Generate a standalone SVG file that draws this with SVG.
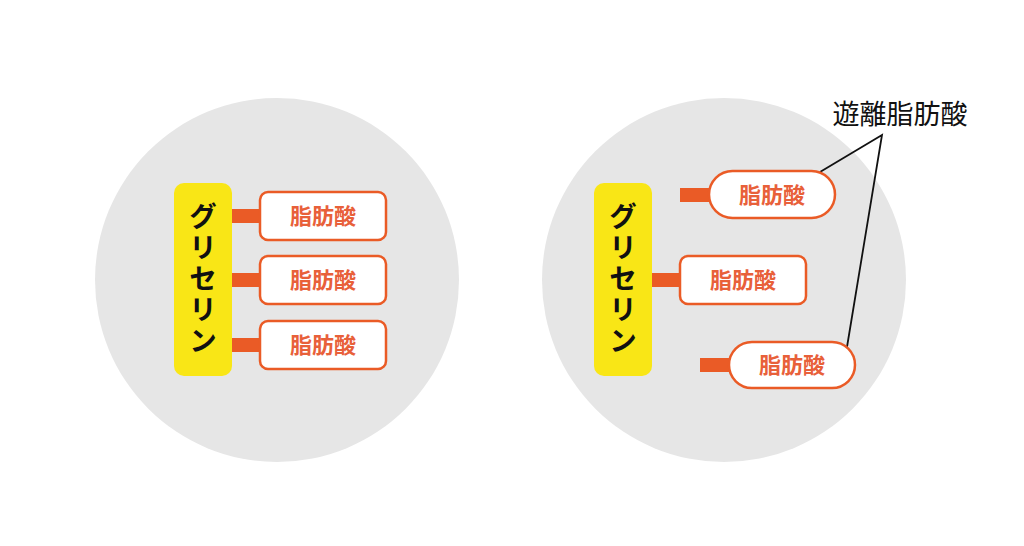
<svg xmlns="http://www.w3.org/2000/svg" width="1024" height="546" viewBox="0 0 1024 546">
<style>
.bg{fill:#e6e6e6}
.gly{fill:#f9e616}
.glyt{font-family:"Noto Sans CJK JP","Noto Sans CJK SC",sans-serif;font-size:28px;font-weight:700;fill:#111;writing-mode:vertical-rl;letter-spacing:3px}
.box{fill:#fff;stroke:#ea5b26;stroke-width:2.5}
.bar{fill:#ea5b26}
.fa{font-family:"Noto Sans CJK JP","Noto Sans CJK SC",sans-serif;font-size:22px;font-weight:700;fill:#e8603a;text-anchor:middle}
.lbl{font-family:"Noto Sans CJK JP","Noto Sans CJK SC",sans-serif;font-size:27px;fill:#111;text-anchor:middle}
.ln{stroke:#111;stroke-width:1.8;fill:none}
</style>
<rect width="1024" height="546" fill="#fff"/>
<circle class="bg" cx="277" cy="280" r="182"/>
<circle class="bg" cx="724" cy="280" r="182"/>
<g id="connectors">
<rect class="bar" x="231" y="209" width="30" height="14"/>
<rect class="bar" x="231" y="273" width="30" height="14"/>
<rect class="bar" x="231" y="338" width="30" height="14"/>
<rect class="bar" x="680" y="188" width="30" height="14"/>
<rect class="bar" x="651" y="273" width="30" height="14"/>
<rect class="bar" x="700" y="358" width="30" height="14"/>
<polyline class="ln" points="820,172 882,135 847,347"/>
</g>
<g id="glycerin-left">
<rect class="gly" x="174" y="183" width="58" height="193" rx="10"/>
<text class="glyt" x="203" y="202">グリセリン</text>
</g>
<g id="fa-left-1"><rect class="box" x="260" y="192" width="126" height="48" rx="8"/><text class="fa" x="323" y="224">脂肪酸</text></g>
<g id="fa-left-2"><rect class="box" x="260" y="256" width="126" height="48" rx="8"/><text class="fa" x="323" y="288">脂肪酸</text></g>
<g id="fa-left-3"><rect class="box" x="260" y="321" width="126" height="48" rx="8"/><text class="fa" x="323" y="353">脂肪酸</text></g>
<g id="glycerin-right">
<rect class="gly" x="594" y="183" width="58" height="193" rx="10"/>
<text class="glyt" x="623" y="202">グリセリン</text>
</g>
<g id="fa-right-1"><rect class="box" x="709" y="171" width="126" height="47" rx="23.5"/><text class="fa" x="772" y="203">脂肪酸</text></g>
<g id="fa-right-2"><rect class="box" x="680" y="256" width="126" height="48" rx="8"/><text class="fa" x="743" y="288">脂肪酸</text></g>
<g id="fa-right-3"><rect class="box" x="729" y="342" width="126" height="46" rx="23"/><text class="fa" x="792" y="373">脂肪酸</text></g>
<g id="label-free"><text class="lbl" x="900" y="124">遊離脂肪酸</text></g>
</svg>
